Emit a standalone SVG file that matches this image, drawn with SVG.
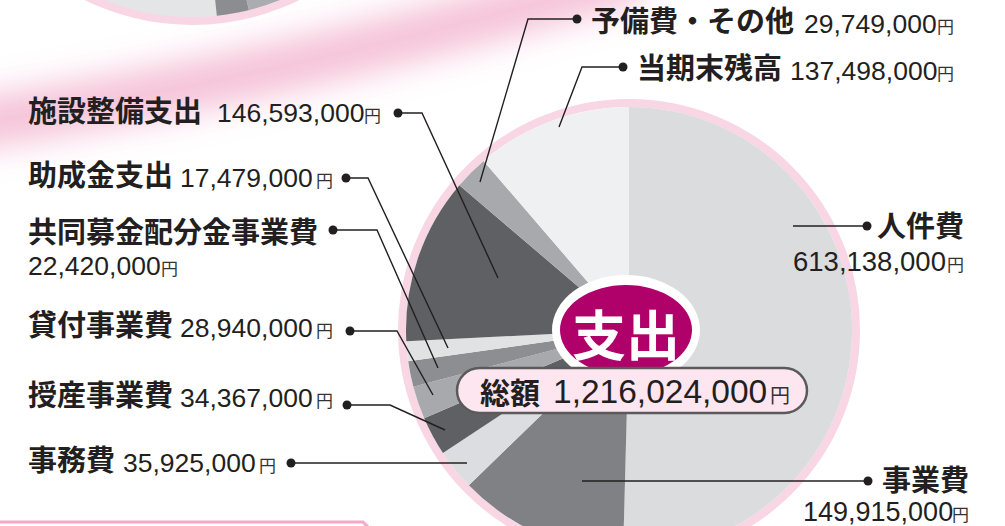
<svg xmlns="http://www.w3.org/2000/svg" width="1005" height="526" viewBox="0 0 1005 526">
<style>
.lbl{font-family:"Noto Sans CJK JP","Noto Sans CJK SC",sans-serif;font-weight:700;font-size:29px;fill:#231f20}
.num{font-family:"Liberation Sans",Arial,sans-serif;font-size:26.5px;fill:#231f20}
.yen{font-family:"Noto Sans CJK JP",sans-serif;font-weight:400;font-size:17px;fill:#333}
.conn{fill:none;stroke:#231f20;stroke-width:1.4}
.dot{fill:#231f20}
</style>
<defs>
<filter id="blur" x="-20%" y="-100%" width="140%" height="300%"><feGaussianBlur stdDeviation="17"/></filter>
<clipPath id="tlclip"><circle cx="192" cy="-219" r="236"/></clipPath>
</defs>
<rect width="1005" height="526" fill="#fff"/>
<!-- pink swoosh -->
<path d="M -40 126 C 150 98, 360 55, 640 -25" fill="none" stroke="#f4bad3" stroke-width="50" opacity="0.9" filter="url(#blur)"/>
<!-- partial top-left pie -->
<g id="pie-top">
<circle cx="192" cy="-219" r="240" fill="#e4e5e7" stroke="#f9d6e4" stroke-width="8"/>
<g clip-path="url(#tlclip)">
<polygon points="192,-219 219.4,40 256.5,40" fill="#8c8d90"/>
<polygon points="192,-219 256.5,40 450,40 450,-219" fill="#abacaf"/>
</g>
</g>
<!-- main pie -->
<g id="pie">
<circle cx="629" cy="330" r="227" fill="none" stroke="#f9d6e4" stroke-width="8"/>
<path d="M629 330 L629 107 A223 223 0 1 1 623.08 552.92 Z" fill="#dbdcde"/>
<path d="M629 330 L623.08 552.92 A223 223 0 0 1 468.86 485.19 Z" fill="#808185"/>
<path d="M629 330 L468.86 485.19 A223 223 0 0 1 442.96 452.95 Z" fill="#dcdde0"/>
<path d="M629 330 L442.96 452.95 A223 223 0 0 1 424.17 418.18 Z" fill="#5f6063"/>
<path d="M629 330 L424.17 418.18 A223 223 0 0 1 413.32 386.67 Z" fill="#a8a9ad"/>
<path d="M629 330 L413.32 386.67 A223 223 0 0 1 408.21 361.34 Z" fill="#8d8e92"/>
<path d="M629 330 L408.21 361.34 A223 223 0 0 1 406.29 341.32 Z" fill="#e1e2e4"/>
<path d="M629 330 L406.29 341.32 A223 223 0 0 1 459.39 185.21 Z" fill="#5f6063"/>
<path d="M629 330 L459.39 185.21 A223 223 0 0 1 483.58 160.94 Z" fill="#a8a9ad"/>
<path d="M629 330 L483.58 160.94 A223 223 0 0 1 629 107 Z" fill="#eff0f2"/>
</g>
<!-- connectors -->
<g id="connectors">
<path class="conn" d="M398 113 H422 L498 278"/>
<path class="conn" d="M346 178 H368 L448 348"/>
<path class="conn" d="M333 230 H377 L438 368"/>
<path class="conn" d="M350 331 H397 L433 395"/>
<path class="conn" d="M347 405 H390 L445 430"/>
<path class="conn" d="M291 463 H467"/>
<path class="conn" d="M577 19 H528 L480 182"/>
<path class="conn" d="M623 67 H582 L559 127"/>
<path class="conn" d="M793 226 H867"/>
<path class="conn" d="M582 481 H868"/>
<circle class="dot" cx="398" cy="113" r="4.5"/>
<circle class="dot" cx="346" cy="178" r="4.5"/>
<circle class="dot" cx="333" cy="230" r="4.5"/>
<circle class="dot" cx="350" cy="331" r="4.5"/>
<circle class="dot" cx="347" cy="405" r="4.5"/>
<circle class="dot" cx="291" cy="463" r="4.5"/>
<circle class="dot" cx="577" cy="19" r="4.5"/>
<circle class="dot" cx="623" cy="67" r="4.5"/>
<circle class="dot" cx="867" cy="226" r="4.5"/>
<circle class="dot" cx="868" cy="481" r="4.5"/>
</g>
<!-- center badge -->
<g id="center">
<ellipse cx="626" cy="330" rx="74" ry="55" fill="#fff"/>
<ellipse cx="626" cy="330" rx="66" ry="45" fill="#b0006a"/>
<text x="626" y="356" text-anchor="middle" font-family="'Noto Sans CJK JP',sans-serif" font-weight="700" font-size="54" fill="#fff">支出</text>
<rect x="457" y="368" width="350" height="45" rx="22.5" fill="#fde6ef" stroke="#5a5a5a" stroke-width="2.5"/>
<text x="480" y="404" class="lbl" style="font-size:30px">総額</text>
<text x="553" y="403" class="num" style="font-size:33.5px">1,216,024,000</text>
<text x="770" y="403" class="yen" style="font-size:20px">円</text>
</g>
<!-- labels -->
<g id="n-shisetsu"><text x="28" y="122" class="lbl">施設整備支出</text><text x="217" y="122" class="num">146,593,000</text><text x="364" y="122" class="yen">円</text></g>
<g id="n-josei"><text x="28" y="186" class="lbl">助成金支出</text><text x="180" y="187" class="num">17,479,000</text><text x="316" y="187" class="yen">円</text></g>
<g id="n-kyodo"><text x="28" y="243" class="lbl">共同募金配分金事業費</text><text x="28" y="275" class="num">22,420,000</text><text x="161" y="275" class="yen">円</text></g>
<g id="n-kashitsuke"><text x="28" y="336" class="lbl">貸付事業費</text><text x="180" y="337" class="num">28,940,000</text><text x="316" y="337" class="yen">円</text></g>
<g id="n-jusan"><text x="28" y="406" class="lbl">授産事業費</text><text x="180" y="407" class="num">34,367,000</text><text x="316" y="407" class="yen">円</text></g>
<g id="n-jimu"><text x="28" y="471" class="lbl">事務費</text><text x="123" y="472" class="num">35,925,000</text><text x="259" y="472" class="yen">円</text></g>
<g id="n-yobi"><text x="591" y="32" class="lbl">予備費・その他</text><text x="804" y="33" class="num">29,749,000</text><text x="937" y="33" class="yen">円</text></g>
<g id="n-zandaka"><text x="637" y="79" class="lbl">当期末残高</text><text x="790" y="80" class="num">137,498,000</text><text x="937" y="80" class="yen">円</text></g>
<g id="n-jinken"><text x="877" y="237" class="lbl">人件費</text><text x="793" y="271" class="num" style="font-size:27.5px">613,138,000</text><text x="947" y="271" class="yen">円</text></g>
<g id="n-jigyo"><text x="882" y="491" class="lbl">事業費</text><text x="803" y="521" class="num" style="font-size:27px">149,915,000</text><text x="952" y="521" class="yen">円</text></g>
<!-- bottom box edge -->
<path d="M-2 522 H363 L369 528" fill="none" stroke="#f4a9c9" stroke-width="3"/>
</svg>
